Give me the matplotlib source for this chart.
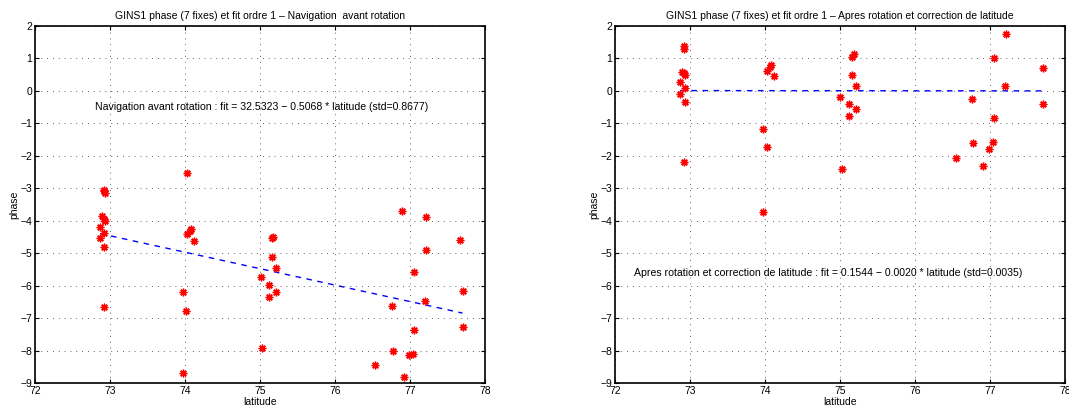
import matplotlib
matplotlib.use("Agg")
import matplotlib.pyplot as plt
import numpy as np

plt.rcParams["font.family"] = ["Liberation Sans", "DejaVu Sans"]

# latitudes of the fixes (same for both panels)
latitude = np.array([
    72.92, 72.92, 72.93, 72.89, 72.92, 72.93, 72.87, 72.92, 72.87, 72.92, 72.92,
    74.03, 74.08, 74.07, 74.03, 74.12, 73.97, 74.02, 73.98,
    75.18, 75.16, 75.16, 75.21, 75.01, 75.12, 75.21, 75.12, 75.03,
    76.90, 77.21, 77.66, 77.21, 77.05, 77.70, 77.20, 76.76, 77.70, 77.05,
    76.78, 76.99, 77.04, 76.54, 76.92,
])

phase_before = np.array([
    -3.05, -3.10, -3.15, -3.85, -3.95, -4.00, -4.18, -4.37, -4.53, -4.81, -6.65,
    -2.54, -4.26, -4.31, -4.41, -4.62, -6.19, -6.78, -8.70,
    -4.49, -4.54, -5.13, -5.46, -5.72, -5.99, -6.19, -6.34, -7.93,
    -3.71, -3.90, -4.61, -4.89, -5.57, -6.17, -6.47, -6.63, -7.29, -7.37,
    -8.02, -8.14, -8.10, -8.44, -8.82,
])

lat_after = np.array([
    72.92, 72.92, 72.89, 72.92, 72.93, 72.87, 72.93, 72.87, 72.93, 72.92,
    74.08, 74.07, 74.03, 74.12, 73.97, 74.02, 73.97,
    75.18, 75.16, 75.16, 75.21, 75.00, 75.12, 75.21, 75.12, 75.03,
    77.21, 77.05, 77.70, 77.20, 76.76, 77.70, 77.05, 76.77, 77.04, 76.99,
    76.54, 76.91,
])

phase_after = np.array([
    1.37, 1.29, 0.59, 0.54, 0.49, 0.28, 0.10, -0.10, -0.34, -2.19,
    0.79, 0.75, 0.62, 0.45, -1.19, -1.74, -3.72,
    1.13, 1.05, 0.48, 0.16, -0.19, -0.41, -0.56, -0.76, -2.40,
    1.75, 1.01, 0.71, 0.15, -0.24, -0.42, -0.83, -1.61, -1.58, -1.80,
    -2.08, -2.32,
])

fit_before = (32.5323, -0.5068)
fit_after = (0.1544, -0.0020)

titles = [
    "GINS1 phase (7 fixes) et fit ordre 1 \u2013 Navigation  avant rotation",
    "GINS1 phase (7 fixes) et fit ordre 1 \u2013 Apres rotation et correction de latitude",
]
notes = [
    "Navigation avant rotation : fit = 32.5323 \u2212 0.5068 * latitude (std=0.8677)",
    "Apres rotation et correction de latitude : fit = 0.1544 \u2212 0.0020 * latitude (std=0.0035)",
]
note_pos = [(72.8, -0.5), (72.25, -5.6)]

fig = plt.figure(figsize=(10.69, 4.09), dpi=100)
ax1 = fig.add_axes([0.0327, 0.0636, 0.421, 0.873])
ax2 = fig.add_axes([0.5753, 0.0636, 0.421, 0.873])

asterisk = (8, 2, 0)
panels = [
    (ax1, latitude, phase_before, fit_before),
    (ax2, lat_after, phase_after, fit_after),
]

for i, (ax, x, y, fit) in enumerate(panels):
    ax.plot(x, y, linestyle="none", marker=asterisk, color="red",
            markersize=5.5, markeredgewidth=1.0, zorder=3)
    xs = np.array([x.min(), x.max()])
    ax.plot(xs, fit[0] + fit[1] * xs, "--", color="blue", lw=1,
            dashes=(4, 4), zorder=2)
    ax.set_xlim(72, 78)
    ax.set_ylim(-9, 2)
    ax.set_xticks(range(72, 79))
    ax.set_yticks(range(-9, 3))
    ax.grid(True, linestyle=(0, (1, 6)), color="black", lw=0.6, alpha=0.8)
    ax.tick_params(direction="in", top=True, right=True, labelsize=7.5,
                   length=3, pad=2)
    for s in ax.spines.values():
        s.set_linewidth(1.2)
    ax.set_title(titles[i], fontsize=7.5, pad=5)
    ax.set_xlabel("latitude", fontsize=7.5, labelpad=1)
    ax.set_ylabel("phase", fontsize=7.5, labelpad=1)
    ax.text(note_pos[i][0], note_pos[i][1], notes[i], fontsize=7.6,
            va="center", ha="left")

fig.savefig("out.png", dpi=100)
